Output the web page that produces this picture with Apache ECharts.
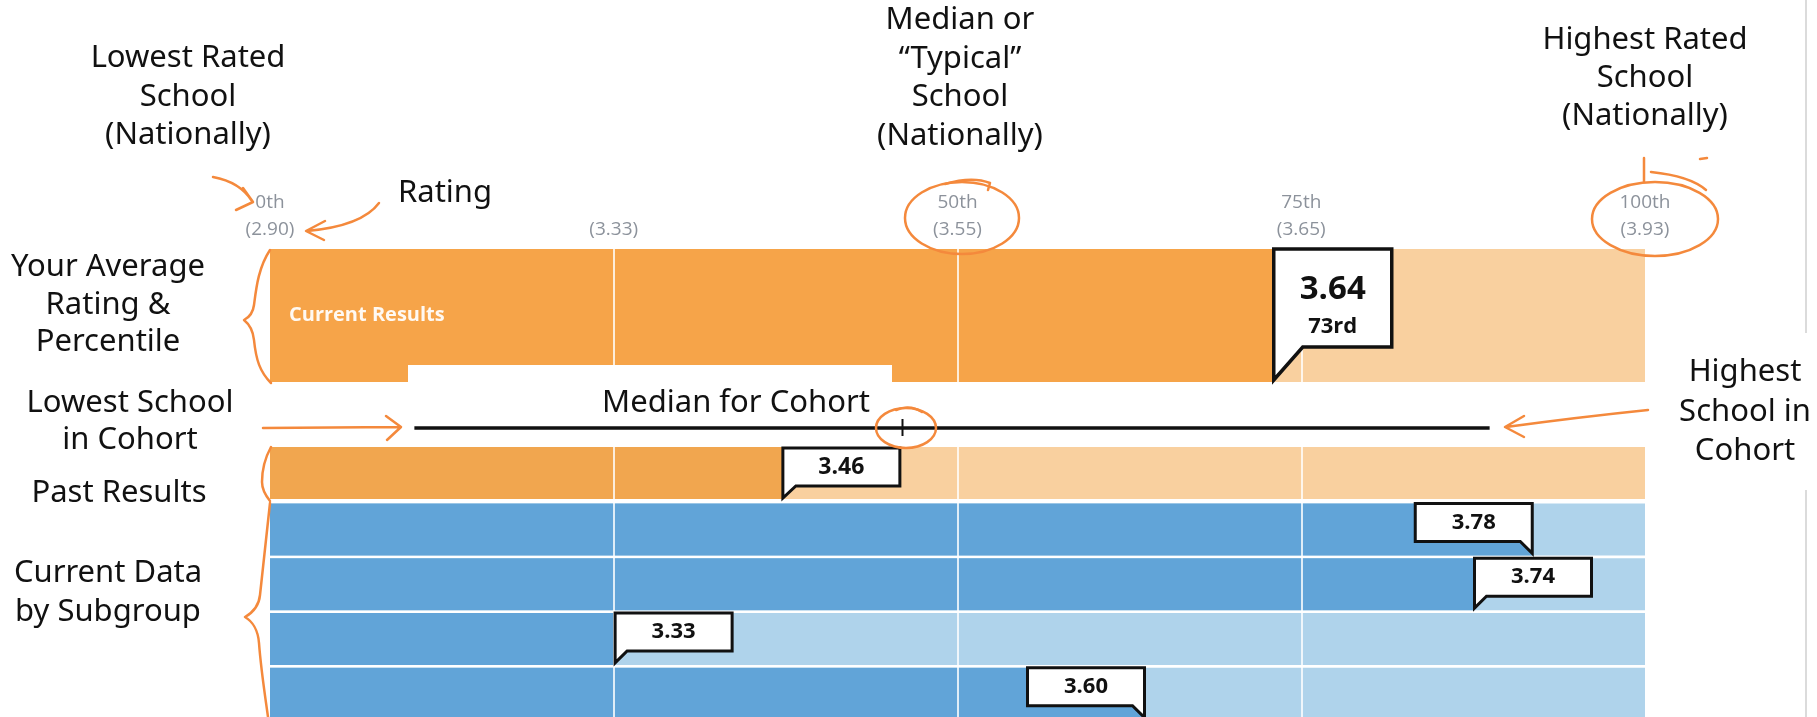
<!DOCTYPE html>
<html>
<head>
<meta charset="utf-8">
<script src="https://cdn.jsdelivr.net/npm/echarts@6/dist/echarts.min.js"></script>
<style>
  html, body { margin: 0; padding: 0; background: #fff; }
  #chart { width: 1817px; height: 717px; }
</style>
</head>
<body>
<div id="chart"></div>
<script>
// national percentile scale and the rating at each tick
const pctTicks = [0, 25, 50, 75, 100]
const pctTickLabels = ['0th', '', '50th', '75th', '100th']
const ratingTickLabels = ['(2.90)', '(3.33)', '(3.55)', '(3.65)', '(3.93)']

// your average rating & percentile
const currentCategories = ['Current Results']
const currentPct = [73]
const currentRating = ['3.64']

// cohort: lowest school, median, highest school (percentile)
const cohortPct = [10.5, 46, 88.7]

const pastCategories = ['Past Results']
const pastPct = [37.3]
const pastRating = ['3.46']

const subgroupCategories = ['Subgroup 1', 'Subgroup 2', 'Subgroup 3', 'Subgroup 4']
const subgroupPct = [91.8, 87.6, 25.1, 63.6]
const subgroupRating = ['3.78', '3.74', '3.33', '3.60']

// which side of the bubble the pointer sits on
const subgroupTailSide = ['right', 'left', 'left', 'right']

const ORANGE = '#F6A449'
const ORANGE_PAST = '#F1A64F'
const ORANGE_LIGHT = '#F9D09F'
const BLUE = '#61A4D8'
const BLUE_LIGHT = '#AFD3EB'
const PEN = '#F4893C'
const NOTE_FONT = '"Noto Sans", sans-serif'
const UI_FONT = '"Open Sans", sans-serif'

function ordinal(n) {
  const s = ['th', 'st', 'nd', 'rd']
  const v = n % 100
  return n + (s[(v - 20) % 10] || s[v] || s[0])
}

const chart = echarts.init(document.getElementById('chart'), null, { renderer: 'canvas' })

const GRID_LEFT = 270
const GRID_WIDTH = 1375
const grids = [
  { top: 249, height: 133 },  // current results
  { top: 408, height: 40 },   // cohort range
  { top: 447, height: 52 },   // past results
  { top: 502, height: 219 }   // subgroups
].map(g => Object.assign({ left: GRID_LEFT, width: GRID_WIDTH, outerBoundsMode: 'none', containLabel: false }, g))

const xAxes = grids.map((g, i) => ({
  gridIndex: i,
  type: 'value',
  min: 0,
  max: 100,
  interval: 25,
  position: 'top',
  axisLine: { show: false },
  axisTick: { show: false },
  splitLine: { show: false },
  axisLabel: {
    show: i === 0,
    showMinLabel: true,
    showMaxLabel: true,
    margin: 6,
    formatter: v => {
      const k = pctTicks.indexOf(v)
      return '{p|' + (pctTickLabels[k] || ' ') + '}\n{r|' + ratingTickLabels[k] + '}'
    },
    rich: {
      p: { color: '#8c929b', fontSize: 19, fontFamily: UI_FONT, lineHeight: 27 },
      r: { color: '#8c929b', fontSize: 19, fontFamily: UI_FONT, lineHeight: 27 }
    }
  }
}))

const yAxes = [currentCategories, ['Cohort'], pastCategories, subgroupCategories].map((cats, i) => ({
  gridIndex: i,
  type: 'category',
  data: cats,
  inverse: true,
  show: false
}))

const whiteLines = {
  silent: true,
  symbol: 'none',
  label: { show: false },
  emphasis: { disabled: true },
  lineStyle: { color: 'rgba(255,255,255,0.8)', width: 2, type: 'solid' },
  data: pctTicks.slice(1, -1).map(v => ({ xAxis: v }))
}

// speech bubble pinned at the end of a bar
function bubble(cfg) {
  return function (params, api) {
    const i = params.dataIndex
    const p = api.coord([api.value(0), api.value(1)])
    const barH = cfg.barH || api.size([0, 1])[1]
    const top = p[1] - barH / 2 + cfg.padTop
    const bot = top + cfg.boxH
    const tip = p[1] + barH / 2 - cfg.padBottom
    const x = p[0]
    const w = cfg.w
    const tw = cfg.tailW
    const side = cfg.sides ? cfg.sides[i] : 'left'
    let pts, cx
    if (side === 'left') {
      pts = [[x, top], [x + w, top], [x + w, bot], [x + tw, bot], [x, tip]]
      cx = x + w / 2
    } else {
      pts = [[x - w, top], [x, top], [x, tip], [x - tw, bot], [x - w, bot]]
      cx = x - w / 2
    }
    const cy = (top + bot) / 2
    const children = [{
      type: 'polygon',
      shape: { points: pts },
      style: { fill: '#fff', stroke: '#111', lineWidth: cfg.border, lineJoin: 'miter' }
    }]
    cfg.lines(i).forEach(l => {
      children.push({
        type: 'text',
        x: cx,
        y: cy + l.dy,
        style: {
          text: l.text, fill: '#111', fontSize: l.size, fontWeight: 'bold', fontFamily: UI_FONT,
          align: 'center', verticalAlign: 'middle'
        }
      })
    })
    return { type: 'group', children }
  }
}

// hand-drawn orange pen marks (decoration only)
const penMarks = [
  // arrows
  'M213,177 Q240,182 252,201 M236,210 L253,202 L243,188',
  'M379,203 Q362,226 307,231 M325,221 L306,231 L324,240',
  'M263,428 L400,427 M386,416 L401,427 L387,440',
  'M1648,410 Q1580,417 1506,427 M1524,416 L1505,427 L1524,437',
  // hooks on the circles
  'M945,184 Q972,176 990,183 L988,190',
  'M1644,158 L1644,182 M1651,172 Q1690,176 1706,190 M1700,159 L1707,158',
  'M896,410 Q910,404 922,412',
  // braces
  'M270,250 C258,268 256,290 254,305 C253,313 248,318 244,320 C249,324 253,330 254,340 C256,360 260,372 271,383',
  'M271,447 C265,458 262,470 262,482 C262,490 266,496 270,501',
  'M270,503 C266,540 262,575 260,595 C259,606 252,613 245,617 C252,621 258,630 259,643 C261,670 265,695 268,717'
]
const penRings = [[962, 218, 57, 36], [1655, 219, 63, 37], [906, 428, 30, 20]]

const series = [
  {
    type: 'bar',
    xAxisIndex: 0, yAxisIndex: 0,
    data: currentPct,
    barWidth: '100%',
    itemStyle: { color: ORANGE },
    showBackground: true,
    backgroundStyle: { color: ORANGE_LIGHT },
    label: {
      show: true, position: 'insideLeft', distance: 19, formatter: '{b}',
      color: 'rgba(255,255,255,0.93)', fontSize: 20, fontWeight: 'bold', fontFamily: UI_FONT
    },
    markLine: whiteLines,
    silent: true
  },
  {
    type: 'custom',
    xAxisIndex: 0, yAxisIndex: 0,
    z: 10,
    data: currentPct.map((v, i) => [v, i]),
    encode: { x: 0, y: 1 },
    renderItem: bubble({
      padTop: 0, boxH: 98, padBottom: 2, w: 118, tailW: 29, border: 3.5,
      lines: i => [
        { text: currentRating[i], size: 33, dy: -8 },
        { text: ordinal(Math.round(currentPct[i])), size: 22, dy: 29 }
      ]
    }),
    silent: true
  },
  {
    type: 'custom',
    xAxisIndex: 1, yAxisIndex: 1,
    data: [[cohortPct[0], cohortPct[1], cohortPct[2], 0]],
    encode: { x: [0, 1, 2], y: 3 },
    renderItem: function (params, api) {
      const y = api.coord([0, 0])[1]
      const x0 = api.coord([api.value(0), 0])[0]
      const xm = api.coord([api.value(1), 0])[0]
      const x1 = api.coord([api.value(2), 0])[0]
      return {
        type: 'group',
        children: [
          { type: 'line', shape: { x1: x0, y1: y, x2: x1, y2: y }, style: { stroke: '#111', lineWidth: 3.5 } },
          { type: 'line', shape: { x1: xm, y1: y - 9, x2: xm, y2: y + 8 }, style: { stroke: '#111', lineWidth: 2 } }
        ]
      }
    },
    silent: true
  },
  {
    type: 'bar',
    xAxisIndex: 2, yAxisIndex: 2,
    data: pastPct,
    barWidth: '100%',
    itemStyle: { color: ORANGE_PAST },
    showBackground: true,
    backgroundStyle: { color: ORANGE_LIGHT },
    markLine: whiteLines,
    silent: true
  },
  {
    type: 'custom',
    xAxisIndex: 2, yAxisIndex: 2,
    z: 10,
    data: pastPct.map((v, i) => [v, i]),
    encode: { x: 0, y: 1 },
    renderItem: bubble({
      padTop: 1, boxH: 38, padBottom: 1, w: 117, tailW: 13, border: 3,
      lines: i => [{ text: pastRating[i], size: 23, dy: 0 }]
    }),
    silent: true
  },
  {
    type: 'bar',
    xAxisIndex: 3, yAxisIndex: 3,
    data: subgroupPct,
    barWidth: 52,
    itemStyle: { color: BLUE },
    showBackground: true,
    backgroundStyle: { color: BLUE_LIGHT },
    markLine: whiteLines,
    silent: true
  },
  {
    type: 'custom',
    xAxisIndex: 3, yAxisIndex: 3,
    z: 10,
    data: subgroupPct.map((v, i) => [v, i]),
    encode: { x: 0, y: 1 },
    renderItem: bubble({
      barH: 52, padTop: 0, boxH: 38, padBottom: 2, w: 117, tailW: 12, border: 3,
      sides: subgroupTailSide,
      lines: i => [{ text: subgroupRating[i], size: 22, dy: 0 }]
    }),
    silent: true
  },
  {
    type: 'custom',
    coordinateSystem: 'none',
    z: 100,
    silent: true,
    data: [[0]],
    renderItem: function () {
      const children = penMarks.map(d => ({
        type: 'path',
        shape: { pathData: d },
        style: { fill: 'none', stroke: PEN, lineWidth: 2.5, lineCap: 'round', lineJoin: 'round' }
      }))
      penRings.forEach(r => {
        children.push({
          type: 'ellipse',
          shape: { cx: r[0], cy: r[1], rx: r[2], ry: r[3] },
          style: { fill: 'none', stroke: PEN, lineWidth: 2.5 }
        })
      })
      children.push({
        type: 'path',
        shape: { pathData: 'M1806,0 L1806,333 M1806,490 L1806,717' },
        style: { fill: 'none', stroke: '#cfcfcf', lineWidth: 1.5 }
      })
      return { type: 'group', children }
    }
  }
]

// annotation texts
const note = (text, x, y, lh) => ({
  type: 'text', x, y, z: 100,
  style: {
    text, fill: '#111', fontSize: 31, fontFamily: NOTE_FONT, lineHeight: lh || 38,
    align: 'center', verticalAlign: 'middle'
  }
})

const graphic = [
  { type: 'rect', z: 90, shape: { x: 408, y: 365, width: 484, height: 56 }, style: { fill: '#fff' } },
  note('Median for Cohort', 736, 403),
  note('Lowest Rated\nSchool\n(Nationally)', 188, 97, 38.5),
  note('Median or\n\u201cTypical\u201d\nSchool\n(Nationally)', 960, 78, 38.6),
  note('Highest Rated\nSchool\n(Nationally)', 1645, 78, 38),
  note('Rating', 445, 193),
  note('Your Average\nRating &\nPercentile', 108, 305, 37.5),
  note('Lowest School\nin Cohort', 130, 421.5, 37),
  note('Past Results', 119, 493),
  note('Current Data\nby Subgroup', 108, 592.5, 39),
  note('Highest\nSchool in\nCohort', 1745, 412, 39.5)
]

chart.setOption({
  animation: false,
  backgroundColor: '#fff',
  grid: grids,
  xAxis: xAxes,
  yAxis: yAxes,
  series,
  graphic
})
</script>
</body>
</html>
